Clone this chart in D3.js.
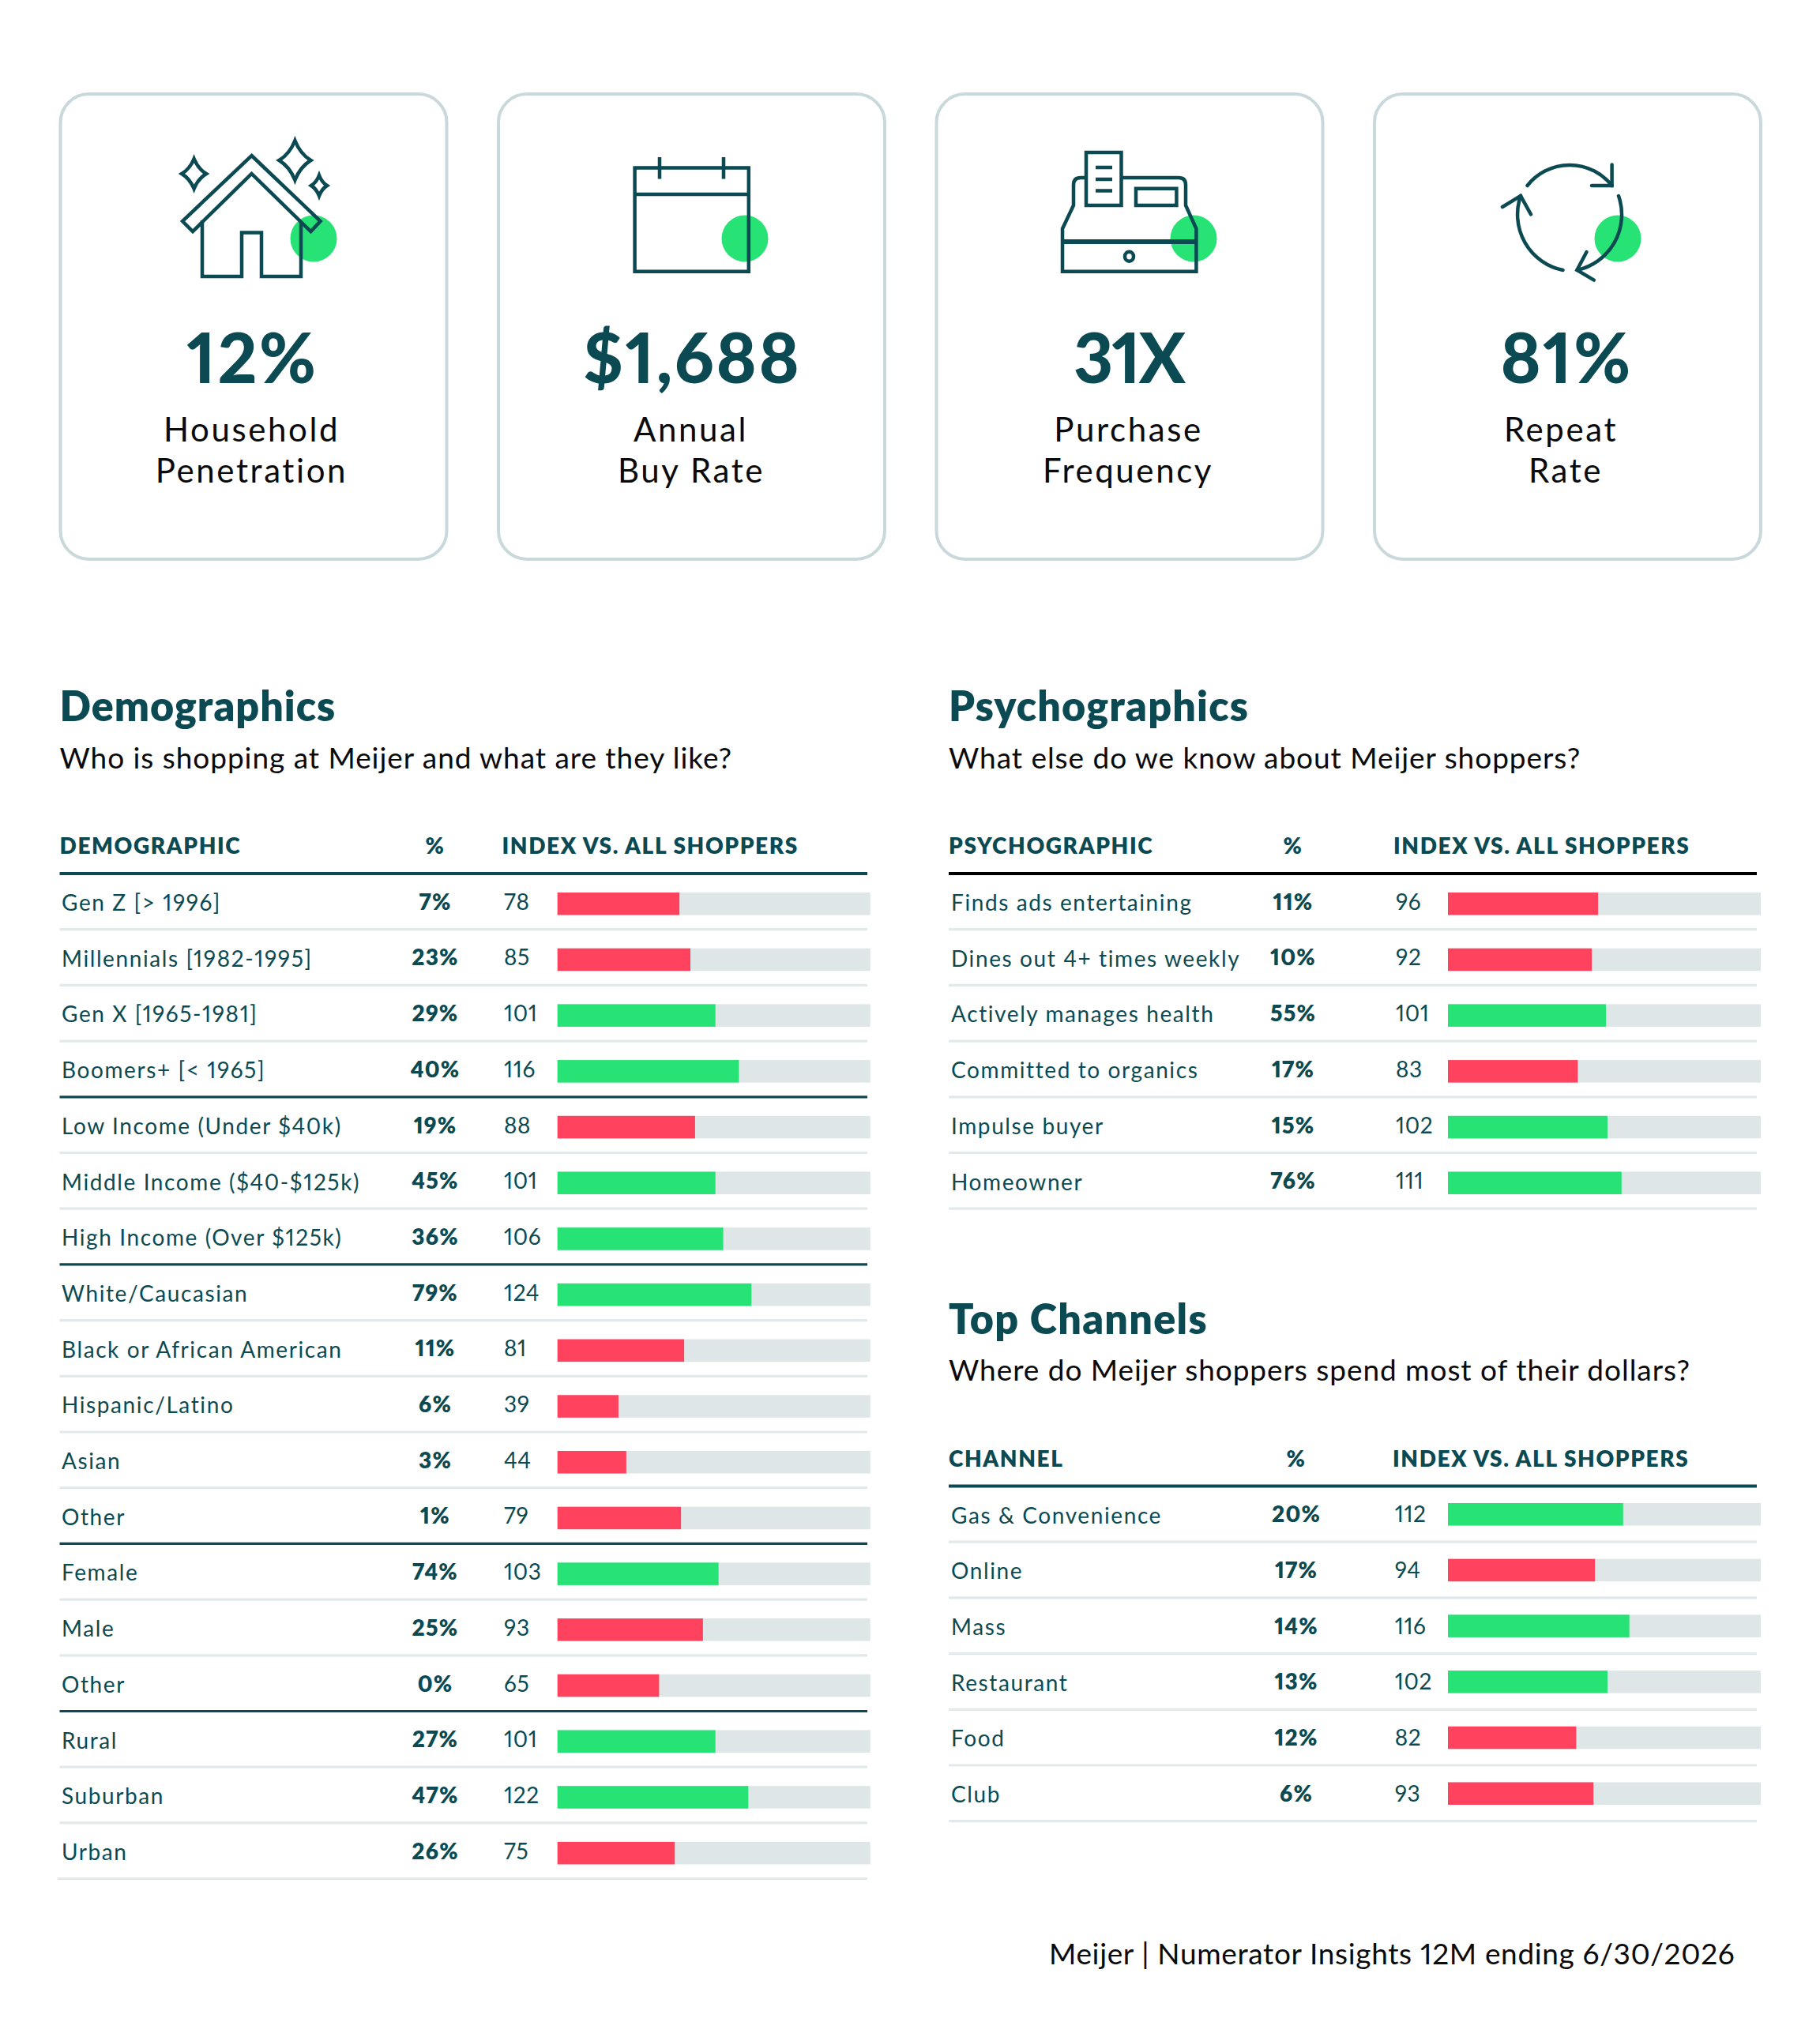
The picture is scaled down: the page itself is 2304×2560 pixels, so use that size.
<!DOCTYPE html>
<html>
<head>
<meta charset="utf-8">
<script src="https://cdn.jsdelivr.net/npm/d3@7"></script>
<style>
  body { margin: 0; background: #fff; }
  text { font-family: Lato, "Noto Sans", sans-serif; font-variant-numeric: proportional-nums; }
</style>
</head>
<body>
<svg id="chart" width="2304" height="2560"></svg>
<script>
// KPI cards
const kpiValues = ["12%", "$1,688", "31X", "81%"];
const kpiLine1 = ["Household", "Annual", "Purchase", "Repeat"];
const kpiLine2 = ["Penetration", "Buy Rate", "Frequency", "Rate"];

// Demographics table
const demoLabels = ["Gen Z [> 1996]", "Millennials [1982-1995]", "Gen X [1965-1981]", "Boomers+ [< 1965]",
  "Low Income (Under $40k)", "Middle Income ($40-$125k)", "High Income (Over $125k)",
  "White/Caucasian", "Black or African American", "Hispanic/Latino", "Asian", "Other",
  "Female", "Male", "Other", "Rural", "Suburban", "Urban"];
const demoPct = [7, 23, 29, 40, 19, 45, 36, 79, 11, 6, 3, 1, 74, 25, 0, 27, 47, 26];
const demoIndex = [78, 85, 101, 116, 88, 101, 106, 124, 81, 39, 44, 79, 103, 93, 65, 101, 122, 75];
const demoGroupEnds = [3, 6, 11, 14];

// Psychographics table
const psychLabels = ["Finds ads entertaining", "Dines out 4+ times weekly", "Actively manages health",
  "Committed to organics", "Impulse buyer", "Homeowner"];
const psychPct = [11, 10, 55, 17, 15, 76];
const psychIndex = [96, 92, 101, 83, 102, 111];

// Top channels table
const channelLabels = ["Gas & Convenience", "Online", "Mass", "Restaurant", "Food", "Club"];
const channelPct = [20, 17, 14, 13, 12, 6];
const channelIndex = [112, 94, 116, 102, 82, 93];

const DARK = "#0b4a52";
const GREEN = "#27e274";
const RED = "#ff435e";
const TRACK = "#dfe6e7";
const RULE = "#e2e9ea";

const svg = d3.select("#chart");

// ---------------------------//
//      CARDS                 //
// ---------------------------//
const CARD_STEP = 554.5;
const textCenters = [318.5, 875, 1428, 1982];
const labelCenters = [318.5, 874.5, 1428.5, 1976];

kpiValues.forEach(function(v, i) {
  svg.append("rect")
    .attr("x", 76.5 + CARD_STEP * i).attr("y", 119)
    .attr("width", 489).attr("height", 589)
    .attr("rx", 36).attr("ry", 36)
    .attr("fill", "#fff").attr("stroke", "#c9d9db").attr("stroke-width", 4);

  svg.append("text").attr("x", textCenters[i] + 1).attr("y", 484.5)
    .attr("text-anchor", "middle")
    .style("font-size", "87px").style("font-weight", 900)
    .style("letter-spacing", i === 2 ? "-2px" : "2.5px")
    .attr("fill", DARK).text(v);

  svg.append("text").attr("x", labelCenters[i]).attr("y", 558.5)
    .attr("text-anchor", "middle").style("font-size", "42px")
    .style("letter-spacing", "2.6px")
    .attr("fill", "#0a0a0a").text(kpiLine1[i]);
  svg.append("text").attr("x", textCenters[i]).attr("y", 610.5)
    .attr("text-anchor", "middle").style("font-size", "42px")
    .style("letter-spacing", "2.6px")
    .attr("fill", "#0a0a0a").text(kpiLine2[i]);
});

// green dots sit behind the icon lines
[397, 943, 1511, 2048].forEach(function(cx) {
  svg.append("circle").attr("cx", cx).attr("cy", 302).attr("r", 29.5).attr("fill", GREEN);
});

const icons = svg.append("g")
  .attr("fill", "none").attr("stroke", DARK).attr("stroke-width", 4.5).attr("stroke-linejoin", "miter");

function sparkle(cx, cy, w, h) {
  // four pointed star with slightly pulled-in sides
  const k = 0.55;
  return "M" + cx + "," + (cy - h) +
    "Q" + (cx + w * k * 0.6) + "," + (cy - h * k * 0.6) + " " + (cx + w) + "," + cy +
    "Q" + (cx + w * k * 0.6) + "," + (cy + h * k * 0.6) + " " + cx + "," + (cy + h) +
    "Q" + (cx - w * k * 0.6) + "," + (cy + h * k * 0.6) + " " + (cx - w) + "," + cy +
    "Q" + (cx - w * k * 0.6) + "," + (cy - h * k * 0.6) + " " + cx + "," + (cy - h) + "Z";
}

// house
icons.append("path").attr("d", "M318.5,197L405.6,280L393.4,293L318.5,220L244,293L231,280Z");
icons.append("path").attr("d", "M256,279V350H306V294.5H331V350H381V281");
icons.append("path").attr("d", sparkle(245.6, 220, 15.5, 19));
icons.append("path").attr("d", sparkle(373.4, 203, 20, 25));
icons.append("path").attr("d", sparkle(404, 235, 10, 13));

// calendar
icons.append("path").attr("d", "M803.6,212.6H947.8V343.7H803.6Z");
icons.append("path").attr("d", "M803.6,246H947.8");
icons.append("path").attr("d", "M835,199V226.5M916,199V226.5");

// cash register
icons.append("path").attr("d", "M1375,193H1419.5V260H1375Z");
icons.append("path").attr("d", "M1387,212H1408M1387,227H1408M1387,241.6H1408");
icons.append("path").attr("d", "M1375,225H1368Q1359,225 1359,234V260L1345,289.5V343.7H1514.4V289.5L1501,260V234Q1501,225 1492,225H1419.5");
icons.append("path").attr("d", "M1345,306H1514.4").attr("stroke-width", 6);
icons.append("path").attr("d", "M1438,238.7H1489.4V260H1438Z");
icons.append("ellipse").attr("cx", 1429.5).attr("cy", 324.8).attr("rx", 5.5).attr("ry", 6);

// recycle arrows
const arrows = icons.append("g").attr("stroke-linecap", "round");
arrows.append("path").attr("d", "M1933.5,235A68,68 0 0 1 2040.6,235");
arrows.append("path").attr("d", "M2040.6,208.4V235H2015");
arrows.append("path").attr("d", "M2049,248A72,72 0 0 1 1996.4,342");
arrows.append("path").attr("d", "M2008.5,319L1996.4,342L2017.8,354.6");
arrows.append("path").attr("d", "M1978.5,342A72,72 0 0 1 1925,248");
arrows.append("path").attr("d", "M1902,262L1925,248L1938,271.4");

// ---------------------------//
//      TABLES                //
// ---------------------------//
const ROW_STEP = 70.7;

function drawTable(t, labels, pct, index) {
  const g = svg.append("g");

  g.append("text").attr("x", t.left).attr("y", t.ruleY - 193)
    .style("font-size", "52px").style("font-weight", 800).style("letter-spacing", t.titleSpacing)
    .attr("fill", DARK).text(t.title);
  g.append("text").attr("x", t.left).attr("y", t.ruleY - 133.5)
    .style("font-size", "37px").style("letter-spacing", "0.95px")
    .attr("fill", "#0a0a0a").text(t.subtitle);

  // header
  const headBase = t.ruleY - 25;
  const head = [
    {x: t.left, s: t.head, a: "start"},
    {x: t.pctX, s: "%", a: "middle"},
    {x: t.idxHeadX, s: "INDEX VS. ALL SHOPPERS", a: "start"}
  ];
  g.selectAll(".head").data(head).enter().append("text").attr("class", "head")
    .attr("x", function(d) { return d.x; }).attr("y", headBase)
    .attr("text-anchor", function(d) { return d.a; })
    .style("font-size", "28px").style("font-weight", 800).style("letter-spacing", "1.6px")
    .attr("fill", DARK).text(function(d) { return d.s; });
  g.append("line").attr("x1", t.left).attr("x2", t.ruleEnd).attr("y1", t.ruleY).attr("y2", t.ruleY)
    .attr("stroke", t.headRule).attr("stroke-width", 4);

  const y = d3.scaleBand().domain(d3.range(labels.length))
    .range([t.ruleY, t.ruleY + ROW_STEP * labels.length]);
  const x = d3.scaleLinear().domain([0, 200]).range([t.barX, t.barX + 396]);

  const rows = g.selectAll(".row").data(labels).enter().append("g").attr("class", "row");

  rows.append("line")
    .attr("x1", function(d, i) { return i === labels.length - 1 ? t.left - t.lastOut : t.left; })
    .attr("x2", t.ruleEnd)
    .attr("y1", function(d, i) { return y(i) + ROW_STEP; })
    .attr("y2", function(d, i) { return y(i) + ROW_STEP; })
    .attr("stroke", function(d, i) { return t.groupEnds.indexOf(i) >= 0 ? DARK : RULE; })
    .attr("stroke-width", 3.2);

  rows.append("text").attr("x", t.labelX).attr("y", function(d, i) { return y(i) + 47; })
    .style("font-size", "28px").style("letter-spacing", "1.6px").attr("fill", DARK)
    .text(function(d) { return d; });

  rows.append("text").attr("x", t.pctX).attr("y", function(d, i) { return y(i) + 45.7; })
    .attr("text-anchor", "middle")
    .style("font-size", "28px").style("font-weight", 800).style("letter-spacing", "1.2px")
    .attr("fill", DARK)
    .text(function(d, i) { return pct[i] + "%"; });

  rows.append("text").attr("x", t.idxX).attr("y", function(d, i) { return y(i) + 45.7; })
    .style("font-size", "28px").style("letter-spacing", "0.6px").attr("fill", DARK)
    .text(function(d, i) { return index[i]; });

  rows.append("rect").attr("x", x(0)).attr("y", function(d, i) { return y(i) + t.barTop; })
    .attr("width", x(200) - x(0)).attr("height", 28.5).attr("fill", TRACK);

  rows.append("rect").attr("x", x(0)).attr("y", function(d, i) { return y(i) + t.barTop; })
    .attr("width", function(d, i) { return x(index[i]) - x(0); }).attr("height", 28.5)
    .attr("fill", function(d, i) { return index[i] >= 100 ? GREEN : RED; });
}

drawTable({
  title: "Demographics", subtitle: "Who is shopping at Meijer and what are they like?", head: "DEMOGRAPHIC",
  left: 75.5, labelX: 78, pctX: 551, idxHeadX: 635.5, idxX: 638, barX: 705.7, ruleEnd: 1098, ruleY: 1106,
  headRule: DARK, barTop: 24, groupEnds: demoGroupEnds, lastOut: 3, titleSpacing: "1px"
}, demoLabels, demoPct, demoIndex);

drawTable({
  title: "Psychographics", subtitle: "What else do we know about Meijer shoppers?", head: "PSYCHOGRAPHIC",
  left: 1201, labelX: 1204, pctX: 1637, idxHeadX: 1764, idxX: 1767, barX: 1833, ruleEnd: 2224, ruleY: 1106,
  headRule: "#000", barTop: 24, groupEnds: [], lastOut: 0, titleSpacing: "1.2px"
}, psychLabels, psychPct, psychIndex);

drawTable({
  title: "Top Channels", subtitle: "Where do Meijer shoppers spend most of their dollars?", head: "CHANNEL",
  left: 1201, labelX: 1204, pctX: 1641, idxHeadX: 1763, idxX: 1765.7, barX: 1833, ruleEnd: 2224, ruleY: 1881.5,
  headRule: DARK, barTop: 21.5, groupEnds: [], lastOut: 0, titleSpacing: "1.3px"
}, channelLabels, channelPct, channelIndex);

svg.append("text").attr("x", 1328).attr("y", 2487)
  .style("font-size", "37px").style("letter-spacing", "0.65px").attr("fill", "#0a0a0a")
  .text("Meijer | Numerator Insights 12M ending 6/30/2026");
</script>
</body>
</html>
